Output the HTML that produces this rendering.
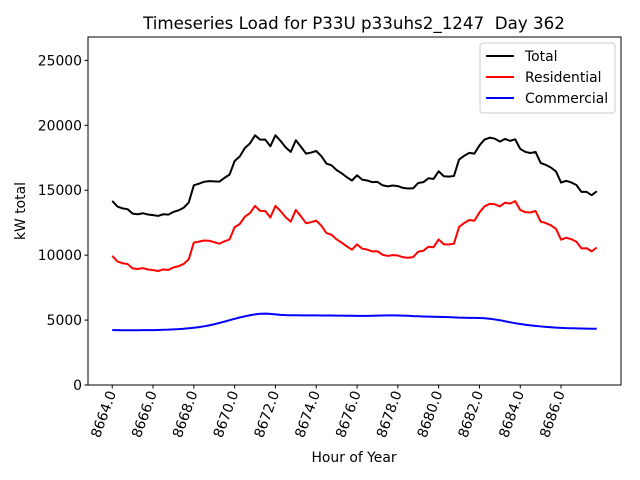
<!DOCTYPE html>
<html><head><meta charset="utf-8"><style>
body{margin:0;background:#fff}
svg{display:block;font-family:"DejaVu Sans","Liberation Sans",sans-serif}
</style></head><body>
<svg id="chart" width="640" height="480" viewBox="0 0 640 480">
<rect x="0" y="0" width="640" height="480" fill="#fff"/>
<text x="354" y="29" font-size="16.7" text-anchor="middle" xml:space="preserve" style="white-space:pre">Timeseries Load for P33U p33uhs2_1247  Day 362</text>
<g id="grid"></g>
<g id="series"></g>
<rect x="88" y="37" width="533" height="348" fill="none" stroke="#000" stroke-width="1"/>
<text x="354" y="462" font-size="13.9" text-anchor="middle">Hour of Year</text>
<text transform="translate(25,211) rotate(-90)" font-size="13.9" text-anchor="middle">kW total</text>
<g>
<rect x="480" y="43" width="135" height="70" fill="#fff" fill-opacity="0.8" stroke="#ccc" rx="3"/>
<g><line x1="486" y1="56" x2="514" y2="56" stroke="#000" stroke-width="2"/><text x="525" y="61" font-size="13.9">Total</text></g>
<g><line x1="486" y1="77" x2="514" y2="77" stroke="#f00" stroke-width="2"/><text x="525" y="82" font-size="13.9">Residential</text></g>
<g><line x1="486" y1="98" x2="514" y2="98" stroke="#00f" stroke-width="2"/><text x="525" y="103" font-size="13.9">Commercial</text></g>
</g>
</svg>
<script>
const startHour = 8664;
const stepHours = 0.25;
const xTicks = [8664,8666,8668,8670,8672,8674,8676,8678,8680,8682,8684,8686];
const xTickLabels = ["8664.0","8666.0","8668.0","8670.0","8672.0","8674.0","8676.0","8678.0","8680.0","8682.0","8684.0","8686.0"];
const yTicks = [0,5000,10000,15000,20000,25000];
const yTickLabels = ["0","5000","10000","15000","20000","25000"];
const total = [14180,13750,13600,13540,13200,13150,13230,13130,13080,13020,13150,13120,13330,13450,13650,14050,15380,15500,15650,15700,15680,15660,15950,16200,17250,17600,18250,18600,19230,18900,18900,18380,19230,18800,18300,17950,18850,18350,17820,17900,18020,17620,17050,16920,16550,16300,16000,15750,16150,15820,15750,15620,15640,15380,15300,15360,15320,15180,15130,15150,15560,15620,15920,15870,16460,16080,16050,16100,17360,17650,17880,17820,18450,18900,19050,18970,18740,18950,18800,18920,18180,17950,17870,17950,17100,16950,16750,16450,15590,15720,15600,15400,14870,14870,14620,14920];
const residential = [9950,9520,9380,9320,8980,8930,9000,8900,8850,8780,8900,8860,9050,9150,9320,9680,10970,11040,11130,11110,11000,10880,11070,11210,12150,12400,12960,13230,13790,13410,13400,12900,13790,13400,12920,12580,13480,12990,12460,12540,12660,12270,11700,11570,11210,10960,10670,10420,10830,10500,10430,10290,10300,10030,9940,10000,9970,9840,9800,9850,10270,10340,10650,10610,11210,10840,10820,10890,12170,12470,12710,12650,13290,13760,13950,13920,13750,14040,13970,14160,13480,13310,13280,13400,12590,12470,12300,12030,11190,11340,11230,11040,10520,10530,10290,10590];
const commercial = [4230,4230,4220,4220,4220,4220,4230,4230,4230,4240,4250,4260,4280,4300,4330,4370,4410,4460,4520,4590,4680,4780,4880,4990,5100,5200,5290,5370,5440,5490,5500,5480,5440,5400,5380,5370,5370,5360,5360,5360,5360,5350,5350,5350,5340,5340,5330,5330,5320,5320,5320,5330,5340,5350,5360,5360,5350,5340,5330,5300,5290,5280,5270,5260,5250,5240,5230,5210,5190,5180,5170,5170,5160,5140,5100,5050,4990,4910,4830,4760,4700,4640,4590,4550,4510,4480,4450,4420,4400,4380,4370,4360,4350,4340,4330,4330];

const NS = "http://www.w3.org/2000/svg";
const L = 88, R = 621, T = 37, B = 385;
const n = total.length;
const xmin0 = startHour, xmax0 = startHour + (n - 1) * stepHours;
const pad = (xmax0 - xmin0) * 0.05;
const xMin = xmin0 - pad, xMax = xmax0 + pad;
const yMin = 0, yMax = 26800;
function xs(v){ return L + (v - xMin) / (xMax - xMin) * (R - L); }
function ys(v){ return B - (v - yMin) / (yMax - yMin) * (B - T); }
const svg = document.getElementById('chart');
const grid = document.getElementById('grid');
const series = document.getElementById('series');

yTicks.forEach((t, i) => {
  const y = ys(t);
  const ln = document.createElementNS(NS, 'line');
  ln.setAttribute('x1', L - 3.5); ln.setAttribute('x2', L); ln.setAttribute('y1', y); ln.setAttribute('y2', y);
  ln.setAttribute('stroke', '#000');
  
  
  grid.appendChild(ln);
  const tx = document.createElementNS(NS, 'text');
  tx.setAttribute('x', L - 6); tx.setAttribute('y', y + 5);
  tx.setAttribute('font-size', '13.9'); tx.setAttribute('text-anchor', 'end');
  tx.textContent = yTickLabels[i];
  
  
  grid.appendChild(tx);
});
xTicks.forEach((t, i) => {
  const x = xs(t);
  const ln = document.createElementNS(NS, 'line');
  ln.setAttribute('x1', x); ln.setAttribute('x2', x); ln.setAttribute('y1', B); ln.setAttribute('y2', B + 3.5);
  ln.setAttribute('stroke', '#000');
  
  
  grid.appendChild(ln);
  const tx = document.createElementNS(NS, 'text');
  tx.setAttribute('transform', 'translate(' + (x + 4) + ',' + (B + 8) + ') rotate(-70)');
  tx.setAttribute('font-size', '13.9'); tx.setAttribute('text-anchor', 'end');
  tx.textContent = xTickLabels[i];
  
  
  grid.appendChild(tx);
});
function drawLine(arr, color, name){
  const pts = arr.map((v, i) => xs(startHour + i * stepHours).toFixed(2) + ',' + ys(v).toFixed(2)).join(' ');
  const pl = document.createElementNS(NS, 'polyline');
  pl.setAttribute('points', pts);
  pl.setAttribute('fill', 'none');
  pl.setAttribute('stroke', color);
  pl.setAttribute('stroke-width', '2');
  pl.setAttribute('stroke-linejoin', 'round');
  
  
  series.appendChild(pl);
}
drawLine(total, '#000', 'total-line');
drawLine(residential, '#f00', 'residential-line');
drawLine(commercial, '#00f', 'commercial-line');
</script>
</body></html>
